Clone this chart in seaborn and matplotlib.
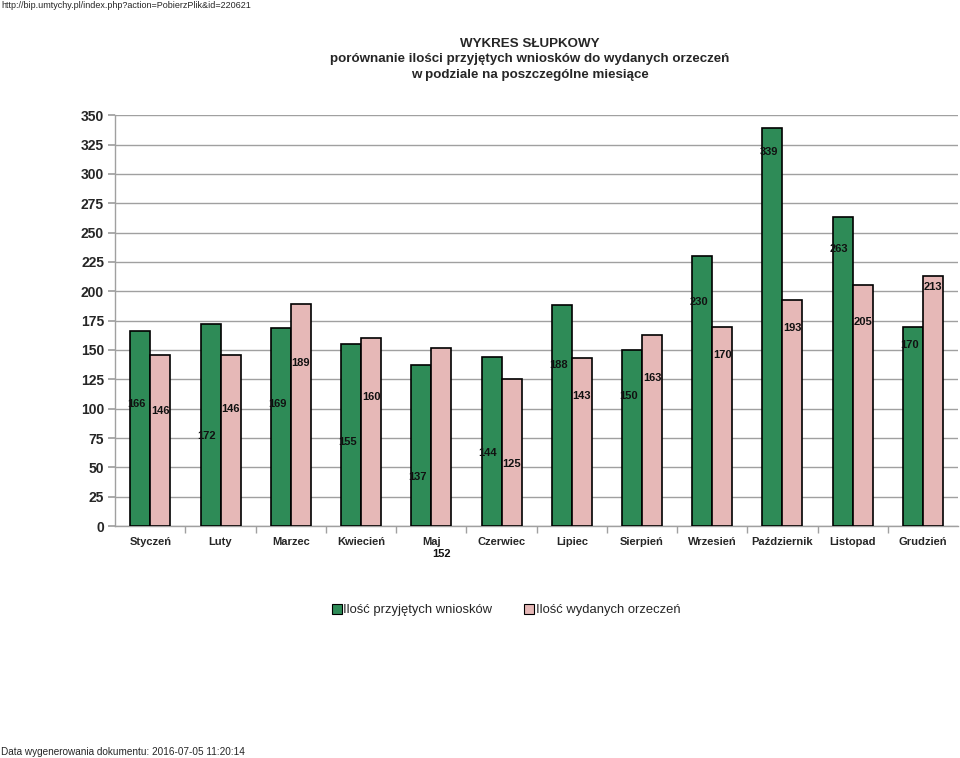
import matplotlib
matplotlib.use("Agg")
import matplotlib.pyplot as plt
import seaborn as sns
import pandas as pd
import numpy as np
from matplotlib.ticker import FixedLocator
from matplotlib.patches import Patch

months = ["Styczeń", "Luty", "Marzec", "Kwiecień", "Maj", "Czerwiec", "Lipiec",
          "Sierpień", "Wrzesień", "Październik", "Listopad", "Grudzień"]
przyjete = [166, 172, 169, 155, 137, 144, 188, 150, 230, 339, 263, 170]
wydane = [146, 146, 189, 160, 152, 125, 143, 163, 170, 193, 205, 213]
series = ["Ilość przyjętych wniosków", "Ilość wydanych orzeczeń"]
# vertical placement of the data labels (as drawn in the original, in data units)
label_y_przyjete = [104, 77, 104, 72, 42, 62, 137, 111, 191, 319, 236, 154]
label_y_wydane = [98, 100, 139, 110, -24, 53, 111, 126, 146, 169, 174, 204]
yticks = list(range(0, 351, 25))

sns.set_theme(style="white")
plt.rcParams['font.family'] = ['Liberation Sans', 'DejaVu Sans']

df = pd.DataFrame({
    "month": months * 2,
    "value": przyjete + wydane,
    "series": [series[0]] * len(months) + [series[1]] * len(months),
})

fig = plt.figure(figsize=(9.6, 7.58), dpi=100)
ax = fig.add_axes([0.12, 0.306, 0.878, 0.542])

palette = {series[0]: "#2E8B57", series[1]: "#E6B8B7"}
sns.barplot(data=df, x="month", y="value", hue="series", order=months,
            hue_order=series, palette=palette, width=0.57, saturation=1,
            edgecolor="black", linewidth=1.2, ax=ax, legend=False, zorder=3)

ax.set_ylim(0, 350)
ax.set_xlim(-0.5, len(months) - 0.5)
ax.set_yticks(yticks)
ax.yaxis.grid(True, color="#a0a0a0", linewidth=1, zorder=0)
ax.set_axisbelow(True)
for s in ["top", "right"]:
    ax.spines[s].set_visible(False)
for s in ["left", "bottom"]:
    ax.spines[s].set_color("#a0a0a0")
    ax.spines[s].set_linewidth(1)
ax.set_xlabel("")
ax.set_ylabel("")
ax.tick_params(axis="y", length=5, color="#a0a0a0", labelsize=10, pad=3, left=True)
for t in ax.get_yticklabels():
    t.set_fontweight("bold")
ax.tick_params(axis="x", which="major", length=0, labelsize=8, pad=8)
for t in ax.get_xticklabels():
    t.set_fontweight("bold")
ax.xaxis.set_minor_locator(FixedLocator(np.arange(0.5, len(months) - 0.5, 1)))
ax.tick_params(axis="x", which="minor", length=5, color="#a0a0a0", bottom=True)

# data labels
bw = 0.57 / 2
for i in range(len(months)):
    ax.text(i - bw / 2 - 0.05, label_y_przyjete[i], str(przyjete[i]), ha="center",
            va="center", fontsize=8, fontweight="bold", color="#111111", zorder=5)
    ax.text(i + bw / 2, label_y_wydane[i], str(wydane[i]), ha="center",
            va="center", fontsize=8, fontweight="bold", color="#111111", zorder=5,
            clip_on=False)

# title
for y, s in [(0.942, "WYKRES SŁUPKOWY"),
             (0.922, "porównanie ilości przyjętych wniosków do wydanych orzeczeń"),
             (0.901, "w podziale na poszczególne miesiące")]:
    fig.text(0.552, y, s, ha="center", va="center", fontsize=9.6, fontweight="bold")

# header / footer
fig.text(0.001, 0.993, "http://bip.umtychy.pl/index.php?action=PobierzPlik&id=220621",
         ha="left", va="center", fontsize=6.5)
fig.text(0.001, 0.008, "Data wygenerowania dokumentu: 2016-07-05 11:20:14",
         ha="left", va="center", fontsize=7.2)

# legend
handles = [Patch(facecolor=palette[s], edgecolor="black", linewidth=0.8) for s in series]
fig.legend(handles, series, loc="center", bbox_to_anchor=(0.527, 0.195), ncol=2,
           frameon=False, fontsize=9.4, handlelength=0.8, handleheight=0.8,
           handletextpad=0.1, columnspacing=2.4)

fig.savefig("out.png", dpi=100)
